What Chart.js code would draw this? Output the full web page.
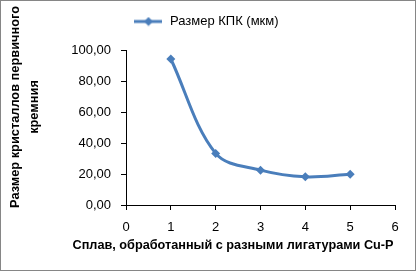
<!DOCTYPE html>
<html>
<head>
<meta charset="utf-8">
<script src="https://cdn.jsdelivr.net/npm/chart.js@4"></script>
<style>
  html, body { margin: 0; padding: 0; background: #fff; }
  #wrap {
    position: absolute; left: 0; top: 0;
    width: 414px; height: 269px;
    border: 1px solid #868686;
  }
  canvas { display: block; }
</style>
</head>
<body>
<div id="wrap"><canvas id="chart" width="414" height="269"></canvas></div>
<script>
// data
const alloys = [1, 2, 3, 4, 5]
const crystalSize = [94.2, 33.3, 22.5, 18.2, 19.9]
const seriesName = 'Размер КПК (мкм)'
const xTitle = 'Сплав, обработанный с разными лигатурами Cu-P'
const yTitleLines = ['Размер кристаллов первичного', 'кремния']

const blue = '#4A7EBB'
const font = 'Liberation Sans, Arial, sans-serif'

// legend symbol: short line with a diamond in the middle
function legendSymbol() {
  const c = document.createElement('canvas')
  c.width = 28
  c.height = 10
  const g = c.getContext('2d')
  g.strokeStyle = blue
  g.lineWidth = 3
  g.beginPath()
  g.moveTo(0, 5)
  g.lineTo(28, 5)
  g.stroke()
  g.fillStyle = blue
  g.beginPath()
  g.moveTo(14, 0.5)
  g.lineTo(18.5, 5)
  g.lineTo(14, 9.5)
  g.lineTo(9.5, 5)
  g.closePath()
  g.fill()
  return c
}
const symbol = legendSymbol()

// fixed legend height, legend nudged right like in the original
const fixLegend = {
  id: 'fixLegend',
  beforeLayout(chart) {
    const lg = chart.legend
    if (lg && !lg._fixed) {
      const fit = lg.fit.bind(lg)
      lg.fit = function() { fit(); this.height = 49 }
      lg._fixed = true
    }
  },
  afterLayout(chart) {
    const lg = chart.legend
    if (lg) {
      lg.left += 8
      lg.right += 8
    }
  },
}

// axis titles, placed where Excel put them (not centred on the plot area)
const axisTitles = {
  id: 'axisTitles',
  afterDraw(chart) {
    const ctx = chart.ctx
    ctx.save()
    ctx.fillStyle = '#000'
    ctx.textAlign = 'center'
    ctx.textBaseline = 'middle'
    ctx.font = 'bold 12.8px ' + font
    const xs = [14, 33]
    yTitleLines.forEach((line, i) => {
      ctx.save()
      ctx.translate(xs[i], 106)
      ctx.rotate(-Math.PI / 2)
      ctx.fillText(line, 0, 0)
      ctx.restore()
    })
    ctx.font = 'bold 12.7px ' + font
    ctx.fillText(xTitle, 232, 244)
    ctx.restore()
  },
}

new Chart(document.getElementById('chart'), {
  type: 'scatter',
  data: {
    datasets: [{
      label: seriesName,
      data: alloys.map((x, i) => ({ x, y: crystalSize[i] })),
      showLine: true,
      tension: 0.35,
      borderColor: blue,
      backgroundColor: blue,
      borderWidth: 3,
      pointStyle: 'rectRot',
      pointRadius: 4.5,
      pointBorderWidth: 0,
      pointHoverRadius: 4.5,
    }],
  },
  options: {
    responsive: false,
    animation: false,
    events: [],
    layout: { padding: { left: 0, right: 20, top: 0, bottom: 0 } },
    plugins: {
      legend: {
        position: 'top',
        labels: {
          color: '#000',
          font: { family: font, size: 13 },
          padding: 14,
          usePointStyle: true,
          pointStyleWidth: 30,
          generateLabels(chart) {
            return chart.data.datasets.map((ds, i) => ({
              text: ds.label,
              pointStyle: symbol,
              fillStyle: blue,
              strokeStyle: blue,
              lineWidth: 0,
              datasetIndex: i,
            }))
          },
        },
      },
      tooltip: { enabled: false },
    },
    scales: {
      x: {
        type: 'linear',
        min: 0,
        max: 6,
        ticks: {
          stepSize: 1,
          color: '#000',
          padding: 10,
          font: { family: font, size: 13 },
        },
        grid: { drawOnChartArea: false, tickLength: 5, color: '#000' },
        border: { color: '#000' },
        afterFit(scale) { scale.height = 65 },
      },
      y: {
        min: 0,
        max: 100,
        ticks: {
          stepSize: 20,
          color: '#000',
          padding: 10,
          font: { family: font, size: 13 },
          callback: (v) => v.toFixed(2).replace('.', ','),
        },
        grid: { drawOnChartArea: false, tickLength: 5, color: '#000' },
        border: { color: '#000' },
        afterFit(scale) { scale.width = 125 },
      },
    },
  },
  plugins: [fixLegend, axisTitles],
})
</script>
</body>
</html>
